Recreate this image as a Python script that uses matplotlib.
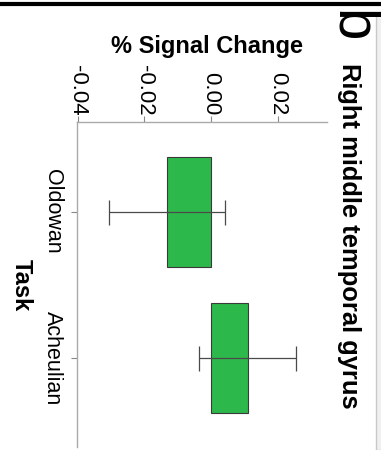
import matplotlib
matplotlib.use("Agg")
import matplotlib.pyplot as plt
from matplotlib.lines import Line2D
from matplotlib.patches import Rectangle

plt.rcParams["font.family"] = ["Liberation Sans", "DejaVu Sans"]

### Data

tasks = ["Oldowan", "Acheulian"]
signal_change = [-0.0133, 0.0110]
signal_err = [0.0174, 0.0146]
value_ticks = [-0.04, -0.02, 0.00, 0.02]
value_labels = ["-0.04", "-0.02", "0.00", "0.02"]

### Figure (panel laid out sideways)

W, H = 381, 450
fig = plt.figure(figsize=(W / 100, H / 100), dpi=100)
ax = fig.add_axes([77 / W, 1 - 447 / H, (327 - 77) / W, (447 - 122) / H])

pos = list(range(len(tasks)))
ax.barh(pos, signal_change, height=0.75, color="#2db84b",
        edgecolor="#3a3a3a", linewidth=0.8, zorder=2)
ax.errorbar(signal_change, pos, xerr=signal_err, fmt="none",
            ecolor="#4a4a4a", elinewidth=0.9, capsize=9, capthick=0.9,
            zorder=3)

ax.set_xlim(-0.0402, 0.0348)
ax.set_ylim(1.605, -0.611)

# value axis along the top, labels turned to read downwards
ax.xaxis.tick_top()
ax.set_xticks(value_ticks)
ax.set_xticklabels(value_labels, rotation=270, fontsize=16)
ax.set_yticks(pos)
ax.set_yticklabels(tasks, rotation=270, va="center", fontsize=15.5)
ax.tick_params(axis="x", length=4, width=0.8, color="#888888", pad=0.5)
ax.tick_params(axis="y", length=4, width=0.8, color="#888888", pad=6)

for side in ["right", "bottom"]:
    ax.spines[side].set_visible(False)
for side in ["left", "top"]:
    ax.spines[side].set_color("#aaaaaa")
    ax.spines[side].set_linewidth(1.0)

fig.text(207 / W, 1 - 47 / H, "% Signal Change", ha="center", va="center",
         fontsize=17, fontweight="bold")
fig.text(21 / W, 1 - 285 / H, "Task", ha="center", va="center",
         rotation=270, fontsize=17, fontweight="bold")
fig.text(349 / W, 1 - 236 / H, "Right middle temporal gyrus", ha="center",
         va="center", rotation=270, fontsize=18.4, fontweight="bold")
fig.text(351 / W, 1 - 26 / H, "b", ha="center", va="center",
         rotation=270, fontsize=42)

# frame pieces around the panel
fig.add_artist(Line2D([0, 1], [1 - 3.5 / H, 1 - 3.5 / H], color="black",
                      linewidth=3, transform=fig.transFigure))
fig.add_artist(Rectangle((376 / W, 0), 10 / W, 1 - 15 / H,
                         facecolor="#f0f0f0", edgecolor="#c8c8c8",
                         linewidth=1, transform=fig.transFigure))

fig.savefig("out.png", dpi=100)
